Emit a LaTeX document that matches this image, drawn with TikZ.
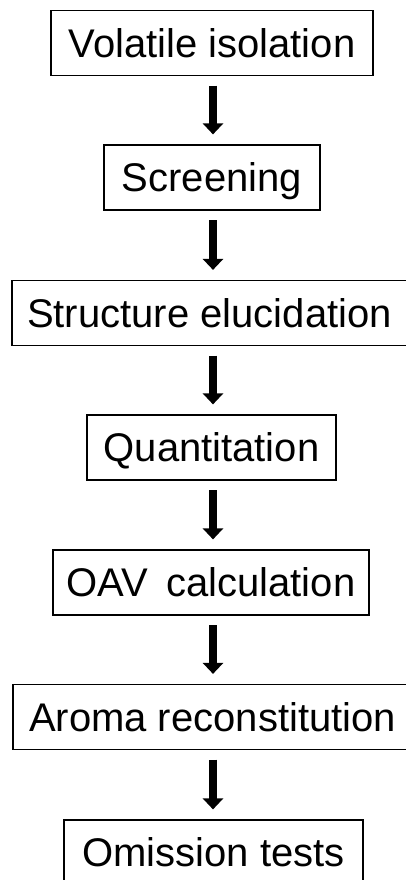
\documentclass[tikz,border=0pt]{standalone}
\usepackage{fontspec}
\setmainfont{Liberation Sans}
\usetikzlibrary{arrows.meta}
\begin{document}
\begin{tikzpicture}[x=1pt, y=-1pt,
  stepbox/.style={draw, line width=1.2pt, minimum height=65pt, inner sep=0pt,
    text height=28.6pt, text depth=0pt, font=\fontsize{40}{48}\selectfont},
  flowarrow/.style={line width=8pt, -{Triangle[length=11pt,width=20pt]},
    shorten <=9.5pt, shorten >=10pt}]
  \useasboundingbox (0,0) rectangle (406,880);
  \coordinate (axis) at (213,0);

  \node[stepbox, minimum width=322pt] (s1) at (212,43)    {Volatile isolation};
  \node[stepbox, minimum width=216pt] (s2) at (212,177.5) {Screening};
  \node[stepbox, minimum width=395pt] (s3) at (209.5,313) {Structure elucidation};
  \node[stepbox, minimum width=249pt] (s4) at (211.5,447.5) {Quantitation};
  \node[stepbox, minimum width=316pt] (s5) at (211,582.5) {OAV\hspace{0.18em} calculation};
  \node[stepbox, minimum width=399pt] (s6) at (212.5,717) {Aroma reconstitution};
  \node[stepbox, minimum width=299pt] (s7) at (213.5,852.5) {Omission tests};

  \foreach \a/\b in {s1/s2, s2/s3, s3/s4, s4/s5, s5/s6, s6/s7}
    \draw[flowarrow] (\a.south -| axis) -- (\b.north -| axis);
\end{tikzpicture}
\end{document}
